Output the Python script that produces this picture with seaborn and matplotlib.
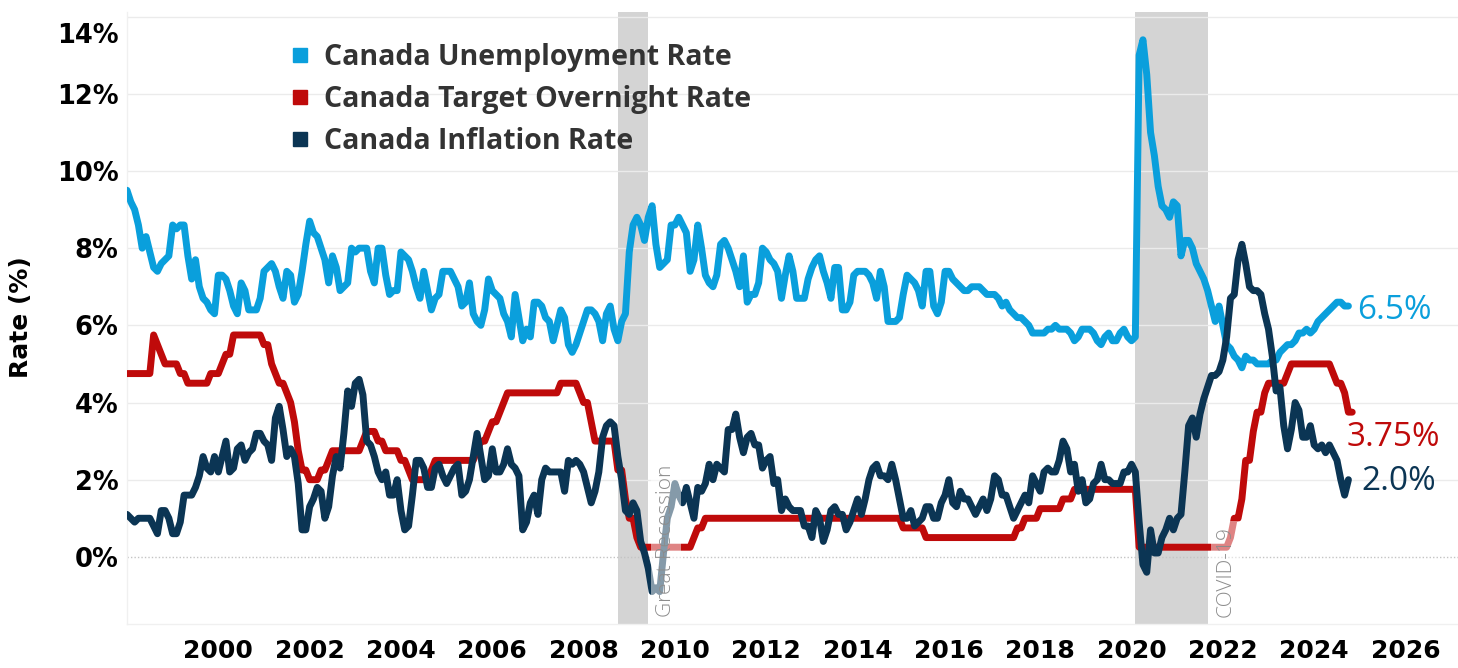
import matplotlib
matplotlib.use("Agg")
import numpy as np
import pandas as pd
import seaborn as sns
import matplotlib.pyplot as plt
from matplotlib.lines import Line2D
from matplotlib.transforms import ScaledTranslation

# ---------------- data (monthly, starting Jan 1998) ----------------
series_names = ["Canada Unemployment Rate", "Canada Target Overnight Rate", "Canada Inflation Rate"]
series_colors = ["#0A9FDC", "#BF0A0A", "#0B3554"]
start_month = "1998-01-01"

unemployment = [
    9.5, 9.2, 9.0, 8.6, 8.0, 8.3, 7.9, 7.5, 7.4, 7.6, 7.7, 7.8,   # 1998
    8.6, 8.5, 8.6, 8.6, 7.8, 7.2, 7.7, 7.0, 6.7, 6.6, 6.4, 6.3,   # 1999
    7.3, 7.3, 7.2, 6.9, 6.5, 6.3, 7.1, 6.9, 6.4, 6.4, 6.4, 6.7,   # 2000
    7.4, 7.5, 7.6, 7.4, 7.0, 6.7, 7.4, 7.3, 6.6, 6.8, 7.4, 8.1,   # 2001
    8.7, 8.4, 8.3, 8.0, 7.7, 7.1, 7.8, 7.5, 6.9, 7.0, 7.1, 8.0,   # 2002
    7.9, 8.0, 8.0, 8.0, 7.4, 7.1, 8.0, 8.0, 7.3, 6.8, 6.9, 6.9,   # 2003
    7.9, 7.8, 7.7, 7.4, 7.0, 6.7, 7.4, 6.9, 6.4, 6.7, 6.8, 7.4,   # 2004
    7.4, 7.4, 7.2, 7.0, 6.5, 6.6, 7.1, 6.3, 6.1, 6.0, 6.4, 7.2,   # 2005
    6.9, 6.8, 6.7, 6.3, 6.1, 5.7, 6.8, 6.2, 5.6, 5.9, 5.7, 6.6,   # 2006
    6.6, 6.5, 6.2, 6.1, 5.6, 6.0, 6.4, 6.2, 5.5, 5.3, 5.5, 5.8,   # 2007
    6.1, 6.4, 6.4, 6.3, 6.1, 5.6, 6.3, 6.5, 5.9, 5.6, 6.1, 6.3,   # 2008
    7.9, 8.6, 8.8, 8.6, 8.2, 8.8, 9.1, 8.1, 7.5, 7.6, 7.7, 8.6,   # 2009
    8.6, 8.8, 8.6, 8.4, 7.4, 7.7, 8.6, 8.0, 7.3, 7.1, 7.0, 7.3,   # 2010
    8.1, 8.2, 8.0, 7.7, 7.4, 7.0, 7.8, 6.6, 6.8, 6.8, 7.1, 8.0,   # 2011
    7.9, 7.7, 7.6, 7.4, 6.7, 7.3, 7.8, 7.4, 6.7, 6.7, 6.7, 7.2,   # 2012
    7.5, 7.7, 7.8, 7.4, 7.1, 6.7, 7.5, 7.5, 6.4, 6.4, 6.6, 7.3,   # 2013
    7.4, 7.4, 7.4, 7.3, 7.1, 6.7, 7.4, 7.0, 6.1, 6.1, 6.1, 6.2,   # 2014
    6.8, 7.3, 7.2, 7.1, 6.9, 6.5, 7.4, 7.4, 6.5, 6.3, 6.6, 7.4,   # 2015
    7.4, 7.2, 7.1, 7.0, 6.9, 6.9, 7.0, 7.0, 7.0, 6.9, 6.8, 6.8,   # 2016
    6.8, 6.7, 6.5, 6.6, 6.4, 6.3, 6.2, 6.2, 6.1, 6.0, 5.8, 5.8,   # 2017
    5.8, 5.8, 5.9, 5.9, 6.0, 5.9, 5.9, 5.9, 5.8, 5.6, 5.7, 5.9,   # 2018
    5.9, 5.9, 5.8, 5.6, 5.5, 5.7, 5.8, 5.6, 5.6, 5.8, 5.9, 5.7,   # 2019
    5.6, 5.7, 13.0, 13.4, 12.5, 11.0, 10.4, 9.6, 9.1, 9.0, 8.8, 9.2,  # 2020
    9.1, 7.8, 8.2, 8.2, 8.0, 7.6, 7.4, 7.2, 6.9, 6.5, 6.1, 6.5,   # 2021
    6.0, 5.5, 5.4, 5.2, 5.1, 4.9, 5.2, 5.1, 5.1, 5.0, 5.0, 5.0,   # 2022
    5.0, 5.1, 5.1, 5.3, 5.4, 5.5, 5.5, 5.6, 5.8, 5.8, 5.9, 5.8,   # 2023
    5.9, 6.1, 6.2, 6.3, 6.4, 6.5, 6.6, 6.6, 6.5, 6.5,             # 2024
]

overnight = [
    4.75, 4.75, 4.75, 4.75, 4.75, 4.75, 4.75, 5.75, 5.5, 5.25, 5.0, 5.0,   # 1998
    5.0, 5.0, 4.75, 4.75, 4.5, 4.5, 4.5, 4.5, 4.5, 4.5, 4.75, 4.75,       # 1999
    4.75, 5.0, 5.25, 5.25, 5.75, 5.75, 5.75, 5.75, 5.75, 5.75, 5.75, 5.75, # 2000
    5.5, 5.5, 5.0, 4.75, 4.5, 4.5, 4.25, 4.0, 3.5, 2.75, 2.25, 2.25,       # 2001
    2.0, 2.0, 2.0, 2.25, 2.25, 2.5, 2.75, 2.75, 2.75, 2.75, 2.75, 2.75,    # 2002
    2.75, 2.75, 3.0, 3.25, 3.25, 3.25, 3.0, 3.0, 2.75, 2.75, 2.75, 2.75,   # 2003
    2.5, 2.5, 2.25, 2.0, 2.0, 2.0, 2.0, 2.0, 2.25, 2.5, 2.5, 2.5,          # 2004
    2.5, 2.5, 2.5, 2.5, 2.5, 2.5, 2.5, 2.5, 2.75, 3.0, 3.0, 3.25,          # 2005
    3.5, 3.5, 3.75, 4.0, 4.25, 4.25, 4.25, 4.25, 4.25, 4.25, 4.25, 4.25,   # 2006
    4.25, 4.25, 4.25, 4.25, 4.25, 4.25, 4.5, 4.5, 4.5, 4.5, 4.5, 4.25,     # 2007
    4.0, 4.0, 3.5, 3.0, 3.0, 3.0, 3.0, 3.0, 3.0, 2.25, 2.25, 1.5,          # 2008
    1.0, 1.0, 0.5, 0.25, 0.25, 0.25, 0.25, 0.25, 0.25, 0.25, 0.25, 0.25,   # 2009
    0.25, 0.25, 0.25, 0.25, 0.25, 0.5, 0.75, 0.75, 1.0, 1.0, 1.0, 1.0,     # 2010
    1.0, 1.0, 1.0, 1.0, 1.0, 1.0, 1.0, 1.0, 1.0, 1.0, 1.0, 1.0,            # 2011
    1.0, 1.0, 1.0, 1.0, 1.0, 1.0, 1.0, 1.0, 1.0, 1.0, 1.0, 1.0,            # 2012
    1.0, 1.0, 1.0, 1.0, 1.0, 1.0, 1.0, 1.0, 1.0, 1.0, 1.0, 1.0,            # 2013
    1.0, 1.0, 1.0, 1.0, 1.0, 1.0, 1.0, 1.0, 1.0, 1.0, 1.0, 1.0,            # 2014
    0.75, 0.75, 0.75, 0.75, 0.75, 0.75, 0.5, 0.5, 0.5, 0.5, 0.5, 0.5,      # 2015
    0.5, 0.5, 0.5, 0.5, 0.5, 0.5, 0.5, 0.5, 0.5, 0.5, 0.5, 0.5,            # 2016
    0.5, 0.5, 0.5, 0.5, 0.5, 0.5, 0.75, 0.75, 1.0, 1.0, 1.0, 1.0,          # 2017
    1.25, 1.25, 1.25, 1.25, 1.25, 1.25, 1.5, 1.5, 1.5, 1.75, 1.75, 1.75,   # 2018
    1.75, 1.75, 1.75, 1.75, 1.75, 1.75, 1.75, 1.75, 1.75, 1.75, 1.75, 1.75, # 2019
    1.75, 1.75, 0.25, 0.25, 0.25, 0.25, 0.25, 0.25, 0.25, 0.25, 0.25, 0.25, # 2020
    0.25, 0.25, 0.25, 0.25, 0.25, 0.25, 0.25, 0.25, 0.25, 0.25, 0.25, 0.25, # 2021
    0.25, 0.25, 0.5, 1.0, 1.0, 1.5, 2.5, 2.5, 3.25, 3.75, 3.75, 4.25,      # 2022
    4.5, 4.5, 4.5, 4.5, 4.5, 4.75, 5.0, 5.0, 5.0, 5.0, 5.0, 5.0,           # 2023
    5.0, 5.0, 5.0, 5.0, 5.0, 4.75, 4.5, 4.5, 4.25, 3.75, 3.75,             # 2024
]

inflation = [
    1.1, 1.0, 0.9, 1.0, 1.0, 1.0, 1.0, 0.8, 0.6, 1.2, 1.2, 1.0,   # 1998
    0.6, 0.6, 0.9, 1.6, 1.6, 1.6, 1.8, 2.1, 2.6, 2.3, 2.2, 2.6,   # 1999
    2.2, 2.6, 3.0, 2.2, 2.3, 2.8, 2.9, 2.5, 2.7, 2.8, 3.2, 3.2,   # 2000
    3.0, 2.9, 2.5, 3.6, 3.9, 3.3, 2.6, 2.8, 2.6, 1.9, 0.7, 0.7,   # 2001
    1.3, 1.5, 1.8, 1.7, 1.0, 1.3, 2.1, 2.6, 2.3, 3.2, 4.3, 3.9,   # 2002
    4.5, 4.6, 4.2, 3.0, 2.9, 2.6, 2.2, 2.0, 2.2, 1.6, 1.6, 2.0,   # 2003
    1.2, 0.7, 0.8, 1.6, 2.5, 2.5, 2.3, 1.8, 1.8, 2.3, 2.4, 2.1,   # 2004
    1.9, 2.1, 2.3, 2.4, 1.6, 1.7, 2.0, 2.6, 3.2, 2.6, 2.0, 2.1,   # 2005
    2.8, 2.2, 2.2, 2.4, 2.8, 2.4, 2.3, 2.1, 0.7, 0.9, 1.4, 1.6,   # 2006
    1.1, 2.0, 2.3, 2.2, 2.2, 2.2, 2.2, 1.7, 2.5, 2.4, 2.5, 2.4,   # 2007
    2.2, 1.8, 1.4, 1.7, 2.2, 3.1, 3.4, 3.5, 3.4, 2.6, 2.0, 1.2,   # 2008
    1.1, 1.4, 1.2, 0.4, 0.1, -0.3, -0.9, -0.8, -0.9, 0.1, 1.0, 1.3,  # 2009
    1.9, 1.6, 1.4, 1.8, 1.4, 1.0, 1.8, 1.7, 1.9, 2.4, 2.0, 2.4,   # 2010
    2.3, 2.2, 3.3, 3.3, 3.7, 3.1, 2.7, 3.1, 3.2, 2.9, 2.9, 2.3,   # 2011
    2.5, 2.6, 1.9, 2.0, 1.2, 1.5, 1.3, 1.2, 1.2, 1.2, 0.8, 0.8,   # 2012
    0.5, 1.2, 1.0, 0.4, 0.7, 1.2, 1.3, 1.1, 1.1, 0.7, 0.9, 1.2,   # 2013
    1.5, 1.1, 1.5, 2.0, 2.3, 2.4, 2.1, 2.1, 2.0, 2.4, 2.0, 1.5,   # 2014
    1.0, 1.0, 1.2, 0.8, 0.9, 1.0, 1.3, 1.3, 1.0, 1.0, 1.4, 1.6,   # 2015
    2.0, 1.4, 1.3, 1.7, 1.5, 1.5, 1.3, 1.1, 1.3, 1.5, 1.2, 1.5,   # 2016
    2.1, 2.0, 1.6, 1.6, 1.3, 1.0, 1.2, 1.4, 1.6, 1.4, 2.1, 1.9,   # 2017
    1.7, 2.2, 2.3, 2.2, 2.2, 2.5, 3.0, 2.8, 2.2, 2.4, 1.7, 2.0,   # 2018
    1.4, 1.5, 1.9, 2.0, 2.4, 2.0, 2.0, 1.9, 1.9, 1.9, 2.2, 2.2,   # 2019
    2.4, 2.2, 0.9, -0.2, -0.4, 0.7, 0.1, 0.1, 0.5, 0.7, 1.0, 0.7,  # 2020
    1.0, 1.1, 2.2, 3.4, 3.6, 3.1, 3.7, 4.1, 4.4, 4.7, 4.7, 4.8,   # 2021
    5.1, 5.7, 6.7, 6.8, 7.7, 8.1, 7.6, 7.0, 6.9, 6.9, 6.8, 6.3,   # 2022
    5.9, 5.2, 4.3, 4.4, 3.4, 2.8, 3.3, 4.0, 3.8, 3.1, 3.1, 3.4,   # 2023
    2.9, 2.8, 2.9, 2.7, 2.9, 2.7, 2.5, 2.0, 1.6, 2.0,             # 2024
]

recession_names = ["Great Recession", "COVID-19"]
recession_starts = ["2008-10-01", "2020-02-01"]
recession_ends = ["2009-05-31", "2021-09-01"]

y_ticks = [0, 2, 4, 6, 8, 10, 12, 14]
x_ticks = [2000, 2002, 2004, 2006, 2008, 2010, 2012, 2014, 2016, 2018, 2020, 2022, 2024, 2026]


def decimal_year(dates):
    dates = pd.to_datetime(dates)
    return dates.year + (dates.dayofyear - 1) / 365.25


frames = []
for name, vals in zip(series_names, [unemployment, overnight, inflation]):
    d = pd.date_range(start_month, periods=len(vals), freq="MS")
    frames.append(pd.DataFrame({"year": d.year + (d.month - 1) / 12.0, "value": vals, "series": name}))
df = pd.concat(frames, ignore_index=True)

# ---------------- figure ----------------
sns.set_theme(style="white")
plt.rcParams["font.family"] = ["DejaVu Sans"]

W, H = 1458, 668
fig = plt.figure(figsize=(W / 100, H / 100), dpi=100)
ax = fig.add_axes([127 / W, 44 / H, 1331 / W, 612 / H])

ax.set_xlim(1998.0, 2027.15)
ax.set_ylim(-1.74, 14.12)

# recession shading
for s, e in zip(recession_starts, recession_ends):
    ax.axvspan(decimal_year([s])[0], decimal_year([e])[0], color="#D4D4D4", zorder=0, lw=0)

# gridlines
for t in y_ticks:
    if t == 0:
        ax.axhline(t, color="#C4C4C4", lw=1.0, ls=(0, (1, 1.5)), zorder=0.6)
    else:
        ax.axhline(t, color="#EBEBEB", lw=1.0, zorder=0.6)

palette = dict(zip(series_names, series_colors))
sns.lineplot(data=df, x="year", y="value", hue="series", hue_order=series_names,
             palette=palette, linewidth=5.0, legend=False, ax=ax, estimator=None)
for ln in ax.lines:
    if ln.get_linewidth() > 4:
        ln.set_solid_joinstyle("round")
        ln.set_solid_capstyle("round")
        ln.set_zorder(3)

# recession labels (with a translucent halo that fades the lines behind them)
for name, e in zip(recession_names, recession_ends):
    ax.annotate(name, xy=(decimal_year([e])[0], -1.55), xytext=(13, 0), textcoords="offset points",
                rotation=90, ha="center", va="bottom", fontsize=15, color="#8C8C8C",
                family=["Open Sans", "DejaVu Sans"], fontweight="light", zorder=5,
                bbox=dict(facecolor="white", alpha=0.5, edgecolor="none", pad=3.5))

# end labels
end_fmt = ["{:.1f}%", "{:.2f}%", "{:.1f}%"]
end_off = [(6, -3), (-4, -18), (9, -1.5)]
for name, vals, col, fmt, off in zip(series_names, [unemployment, overnight, inflation],
                                      series_colors, end_fmt, end_off):
    sub = df[df.series == name]
    ax.annotate(fmt.format(vals[-1]), xy=(sub.year.iloc[-1], vals[-1]), xytext=off,
                textcoords="offset points", ha="left", va="center", fontsize=24,
                color=col, family=["Open Sans", "DejaVu Sans"])

# axes styling
ax.set_xticks(x_ticks)
ax.set_xticklabels([str(x) for x in x_ticks], fontsize=18, fontweight="bold", color="black")
ax.set_yticks(y_ticks)
ax.set_yticklabels([f"{t}%" for t in y_ticks], fontsize=18.5, fontweight="bold", color="black")
ax.tick_params(axis="both", length=0)
ax.tick_params(axis="x", pad=11)
ax.tick_params(axis="y", pad=6)
top_tick = ax.yaxis.get_major_ticks()[-1]
top_tick.label1.set_transform(top_tick.label1.get_transform() + ScaledTranslation(0, -0.16, fig.dpi_scale_trans))

ax.set_xlabel("")
ax.set_ylabel("Rate (%)", fontsize=18, fontweight="bold", color="black")
ax.yaxis.set_label_coords(-0.0706, 0.502)

for side in ["top", "right"]:
    ax.spines[side].set_visible(False)
for side in ["left", "bottom"]:
    ax.spines[side].set_color("#F0F0F0")
    ax.spines[side].set_linewidth(1)

# legend
handles = [Line2D([0], [0], marker="s", ls="none", markersize=9.5, color=c) for c in series_colors]
leg = ax.legend(handles, series_names, loc="upper left", bbox_to_anchor=(0.1195, 0.949),
                frameon=False, borderpad=0, borderaxespad=0, handlelength=1.0,
                handletextpad=0.35, labelspacing=0.45,
                prop=dict(family=["Open Sans", "DejaVu Sans"], weight="bold", size=20.5))
for t in leg.get_texts():
    t.set_color("#333333")

fig.savefig("out.png", dpi=100)
